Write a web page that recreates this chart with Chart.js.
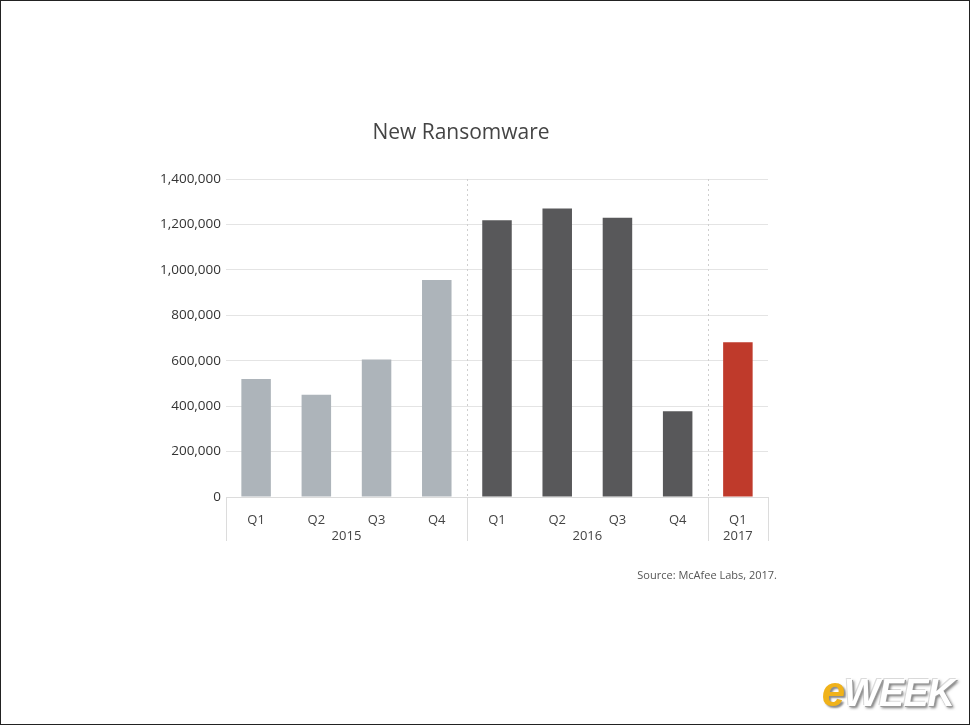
<!DOCTYPE html>
<html>
<head>
<meta charset="utf-8">
<script src="https://cdn.jsdelivr.net/npm/chart.js@4/dist/chart.umd.min.js"></script>
<style>
  html, body { margin: 0; padding: 0; background: #fff; }
  #wrap { position: relative; width: 970px; height: 725px; overflow: hidden; }
  #c { position: absolute; left: 0; top: 0; }
  #frame { position: absolute; left: 0; top: 0; width: 970px; height: 725px; box-sizing: border-box; border: 1px solid #222; pointer-events: none; }
  #logo { position: absolute; right: 16px; top: 668px; font-family: "Liberation Sans", Arial, sans-serif; font-weight: bold; font-style: italic; font-size: 38px; letter-spacing: -1px; }
  #logo .e { color: #f0b21a; text-shadow: 2px 2px 2px #8a8a8a; font-size: 42px; }
  #logo .w { color: #ffffff; text-shadow: 1px 1px 0 #999, 2px 2px 3px #777, -1px -1px 0 #ddd; }
</style>
</head>
<body>
<div id="wrap">
  <canvas id="c" width="970" height="725"></canvas>
  <div id="frame"></div>
  <div id="logo"><span class="e">e</span><span class="w">WEEK</span></div>
</div>
<script>
// ---- data ----
const quarters = ['Q1', 'Q2', 'Q3', 'Q4', 'Q1', 'Q2', 'Q3', 'Q4', 'Q1'];
const years = ['2015', '2016', '2017'];
const yearOfBar = [0, 0, 0, 0, 1, 1, 1, 1, 2];
const newRansomware = [520000, 450000, 605000, 955000, 1218000, 1270000, 1229000, 377000, 681000];
const yTicks = [0, 200000, 400000, 600000, 800000, 1000000, 1200000, 1400000];
const chartTitle = 'New Ransomware';
const sourceNote = 'Source: McAfee Labs, 2017.';

const yearColors = ['#adb4ba', '#58585a', '#bf3a2b'];
const FONT = '"Open Sans", "Noto Sans", sans-serif';

const groupPlugin = {
  id: 'groups',
  beforeDatasetsDraw(chart) {
    const { ctx, chartArea, scales } = chart;
    const x = scales.x;
    const half = (x.getPixelForValue(1) - x.getPixelForValue(0)) / 2;
    ctx.save();
    ctx.strokeStyle = '#cfcfcf';
    ctx.lineWidth = 1;
    ctx.setLineDash([2, 3]);
    for (let i = 1; i < yearOfBar.length; i++) {
      if (yearOfBar[i] !== yearOfBar[i - 1]) {
        const px = Math.round(x.getPixelForValue(i) - half) + 0.5;
        ctx.beginPath();
        ctx.moveTo(px, chartArea.top);
        ctx.lineTo(px, chartArea.bottom);
        ctx.stroke();
      }
    }
    ctx.restore();
  },
  afterDraw(chart) {
    const { ctx, chartArea, scales } = chart;
    const x = scales.x;
    const half = (x.getPixelForValue(1) - x.getPixelForValue(0)) / 2;
    ctx.save();
    // title
    ctx.fillStyle = '#444';
    ctx.font = '21px ' + FONT;
    ctx.textAlign = 'center';
    ctx.textBaseline = 'middle';
    ctx.fillText(chartTitle, 461, chartArea.top - 46);
    // solid separators below axis
    ctx.strokeStyle = '#dcdcdc';
    ctx.lineWidth = 1;
    const edges = [x.getPixelForValue(0) - half];
    for (let i = 1; i < yearOfBar.length; i++) {
      if (yearOfBar[i] !== yearOfBar[i - 1]) edges.push(x.getPixelForValue(i) - half);
    }
    edges.push(x.getPixelForValue(yearOfBar.length - 1) + half);
    edges.forEach(e => {
      const px = Math.round(e) + 0.5;
      ctx.beginPath();
      ctx.moveTo(px, chartArea.bottom);
      ctx.lineTo(px, chartArea.bottom + 44);
      ctx.stroke();
    });
    // year labels
    ctx.fillStyle = '#444';
    ctx.font = '13px ' + FONT;
    ctx.textAlign = 'center';
    ctx.textBaseline = 'middle';
    years.forEach((yr, gi) => {
      const idx = yearOfBar.map((g, i) => g === gi ? i : -1).filter(i => i >= 0);
      const cx = (x.getPixelForValue(idx[0]) + x.getPixelForValue(idx[idx.length - 1])) / 2;
      ctx.fillText(yr, cx, chartArea.bottom + 39);
    });
    // source
    ctx.fillStyle = '#555';
    ctx.font = '11px ' + FONT;
    ctx.textAlign = 'right';
    ctx.fillText(sourceNote, chartArea.right + 9, chartArea.bottom + 79);
    ctx.restore();
  }
};

new Chart(document.getElementById('c'), {
  type: 'bar',
  data: {
    labels: quarters,
    datasets: [{
      data: newRansomware,
      backgroundColor: yearOfBar.map(g => yearColors[g]),
      borderWidth: 0,
      barPercentage: 0.49,
      categoryPercentage: 1.0
    }]
  },
  options: {
    responsive: false,
    animation: false,
    devicePixelRatio: 1,
    layout: { padding: { top: 179, right: 202, bottom: 168, left: 0 } },
    plugins: {
      legend: { display: false },
      tooltip: { enabled: false },
      title: { display: false }
    },
    scales: {
      x: {
        grid: { display: false, drawTicks: false },
        border: { display: true, color: '#dcdcdc' },
        ticks: { color: '#444', font: { family: FONT, size: 13 }, padding: 15, maxRotation: 0 },
        afterFit(s) { s.height = 60; }
      },
      y: {
        min: 0,
        max: 1400000,
        afterBuildTicks(s) { s.ticks = yTicks.map(v => ({ value: v })); },
        grid: { color: '#e4e4e4', drawTicks: false },
        border: { display: false },
        ticks: {
          color: '#333',
          font: { family: FONT, size: 13.5 },
          padding: 5,
          callback: v => Number(v).toLocaleString('en-US')
        },
        afterFit(s) { s.width = 226; }
      }
    }
  },
  plugins: [groupPlugin]
});
</script>
</body>
</html>
